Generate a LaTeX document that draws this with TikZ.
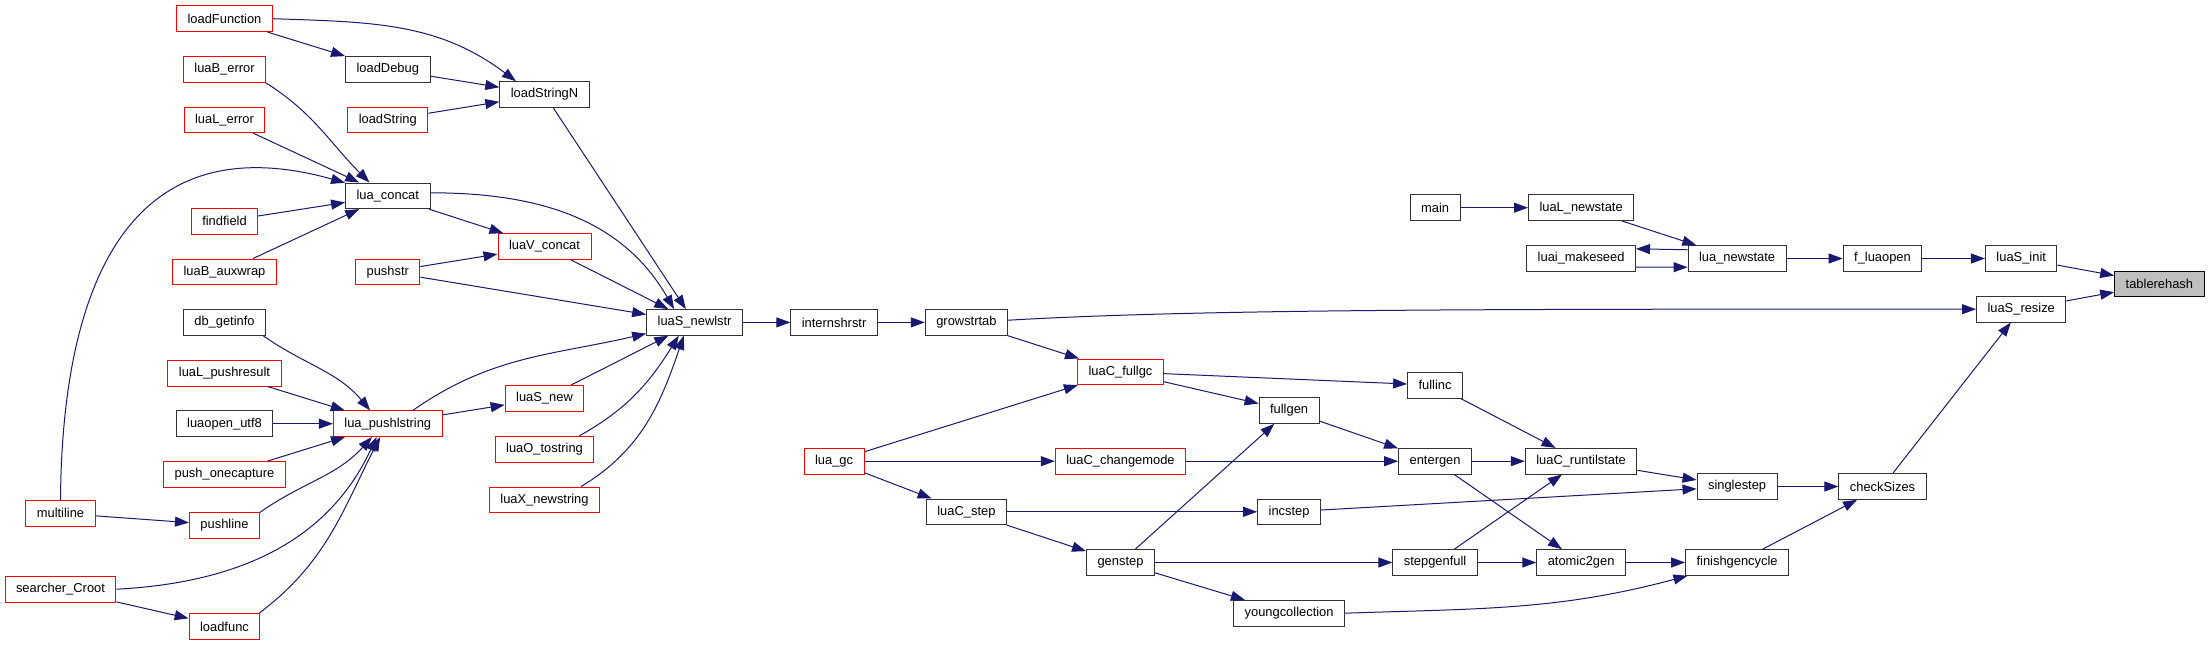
\documentclass[tikz,border=0pt]{standalone}
\usepackage{fontspec}
\setmainfont{Liberation Sans}
\usepackage{xcolor}
\usepackage{tikz}
\usetikzlibrary{
	arrows.meta
}
\definecolor{midnight}{HTML}{191970}

\begin{document}
\begin{tikzpicture}[x=1pt,y=1pt,
		fnbox/.style={draw=black!80, line width=1pt, fill=white, minimum height=25.6pt, inner xsep=11pt, inner ysep=2pt, font=\fontsize{12.9}{14}\selectfont},
		redbox/.style={fnbox, draw=red},
		rootbox/.style={fnbox, draw=black, fill=black!25},
		callarrow/.style={draw=midnight, line width=1pt, -{Triangle[length=14pt,width=10pt]}}]
		\path[use as bounding box, fill=white] (0,0) rectangle (2209,-645);
		% left part
		\node[redbox] (multiline) at (60.5,-513.3) {multiline};
		\node[redbox] (searcherCroot) at (60.5,-589.2) {searcher\_Croot};
		\node[redbox] (loadFunction) at (224.5,-18.7) {loadFunction};
		\node[redbox] (luaBerror) at (224.5,-69.3) {luaB\_error};
		\node[redbox] (luaLerror) at (224.5,-119.8) {luaL\_error};
		\node[redbox] (findfield) at (224.5,-221.2) {findfield};
		\node[redbox] (luaBauxwrap) at (224.5,-271.8) {luaB\_auxwrap};
		\node[fnbox] (dbgetinfo) at (224.5,-322.4) {db\_getinfo};
		\node[redbox] (luaLpushresult) at (224.5,-373.2) {luaL\_pushresult};
		\node[fnbox] (luaopenutf) at (224.5,-423.7) {luaopen\_utf8};
		\node[redbox] (pushonecapture) at (224.5,-474.5) {push\_onecapture};
		\node[redbox] (pushline) at (224.5,-525.2) {pushline};
		\node[redbox] (loadfunc) at (224.5,-626.5) {loadfunc};
		\node[fnbox] (loadDebug) at (387.8,-69.3) {loadDebug};
		\node[redbox] (loadString) at (387.8,-119.8) {loadString};
		\node[fnbox] (luaconcat) at (387.8,-195.8) {lua\_concat};
		\node[redbox] (pushstr) at (387.8,-271.8) {pushstr};
		\node[redbox] (luapushlstring) at (387.8,-423.7) {lua\_pushlstring};
		\node[fnbox] (loadStringN) at (544.5,-94.5) {loadStringN};
		\node[redbox] (luaVconcat) at (544.5,-246.5) {luaV\_concat};
		\node[redbox] (luaSnew) at (544.5,-398.5) {luaS\_new};
		\node[redbox] (luaOtostring) at (544.5,-449.2) {luaO\_tostring};
		\node[redbox] (luaXnewstring) at (544.5,-499.8) {luaX\_newstring};
		\node[fnbox] (luaSnewlstr) at (694.6,-322.4) {luaS\_newlstr};
		\node[fnbox] (internshrstr) at (834.1,-322.4) {internshrstr};
		\node[redbox] (luagc) at (834.1,-461.2) {lua\_gc};
		\node[fnbox] (growstrtab) at (966.4,-322.4) {growstrtab};
		\node[fnbox] (luaCstep) at (966.4,-511.8) {luaC\_step};
		% right part
		\node[redbox] (luaCfullgc) at (1120.5,-371.8) {luaC\_fullgc};
		\node[redbox] (luaCchangemode) at (1120.5,-461.2) {luaC\_changemode};
		\node[fnbox] (genstep) at (1120.5,-562.5) {genstep};
		\node[fnbox] (fullgen) at (1289.1,-410.5) {fullgen};
		\node[fnbox] (incstep) at (1289.1,-511.8) {incstep};
		\node[fnbox] (youngcollection) at (1289.1,-613.2) {youngcollection};
		\node[fnbox] (main) at (1435.1,-207.7) {main};
		\node[fnbox] (fullinc) at (1435.1,-385.2) {fullinc};
		\node[fnbox] (entergen) at (1435.1,-461.2) {entergen};
		\node[fnbox] (stepgenfull) at (1435.1,-562.5) {stepgenfull};
		\node[fnbox] (luaLnewstate) at (1581.1,-207.7) {luaL\_newstate};
		\node[fnbox] (luaimakeseed) at (1581.1,-258.5) {luai\_makeseed};
		\node[fnbox] (luaCruntilstate) at (1581.1,-461.2) {luaC\_runtilstate};
		\node[fnbox] (atomictogen) at (1581.1,-562.5) {atomic2gen};
		\node[fnbox] (luanewstate) at (1737.1,-258.5) {lua\_newstate};
		\node[fnbox] (singlestep) at (1737.1,-486.5) {singlestep};
		\node[fnbox] (finishgencycle) at (1737.1,-562.5) {finishgencycle};
		\node[fnbox] (fluaopen) at (1882.5,-258.5) {f\_luaopen};
		\node[fnbox] (checkSizes) at (1882.5,-486.5) {checkSizes};
		\node[fnbox] (luaSinit) at (2021.2,-258.5) {luaS\_init};
		\node[fnbox] (luaSresize) at (2021.2,-309.2) {luaS\_resize};
		\node[rootbox] (tablerehash) at (2159.4,-283.8) {tablerehash};
		% calls
		\draw[callarrow] (loadFunction) -- (loadDebug);
		\draw[callarrow] (loadFunction.east) to[out=-2,in=143] (loadStringN.155);
		\draw[callarrow] (loadDebug) -- (loadStringN);
		\draw[callarrow] (loadString) -- (loadStringN);
		\draw[callarrow] (loadStringN) -- (luaSnewlstr);
		\draw[callarrow] (luaBerror.-18) to[out=-32,in=135] (luaconcat.144);
		\draw[callarrow] (luaLerror) -- (luaconcat);
		\draw[callarrow] (multiline.north) .. controls (62,-300) and (120,-120) .. (luaconcat.163);
		\draw[callarrow] (findfield) -- (luaconcat);
		\draw[callarrow] (luaBauxwrap) -- (luaconcat);
		\draw[callarrow] (luaconcat) -- (luaVconcat);
		\draw[callarrow] (luaconcat.4) to[out=0,in=120] (luaSnewlstr.147);
		\draw[callarrow] (pushstr) -- (luaVconcat);
		\draw[callarrow] (pushstr) -- (luaSnewlstr);
		\draw[callarrow] (luaVconcat) -- (luaSnewlstr);
		\draw[callarrow] (dbgetinfo.-19) to[out=-35,in=130] (luapushlstring.143);
		\draw[callarrow] (luaLpushresult) -- (luapushlstring);
		\draw[callarrow] (luaopenutf) -- (luapushlstring);
		\draw[callarrow] (pushonecapture) -- (luapushlstring);
		\draw[callarrow] (pushline.20) to[out=35,in=228] (luapushlstring.220);
		\draw[callarrow] (searcherCroot.east) to[out=3,in=245] (luapushlstring.230);
		\draw[callarrow] (loadfunc.21) to[out=37,in=243] (luapushlstring.240);
		\draw[callarrow] (multiline) -- (pushline);
		\draw[callarrow] (searcherCroot) -- (loadfunc);
		\draw[callarrow] (luapushlstring.28) to[out=35,in=193] (luaSnewlstr.193);
		\draw[callarrow] (luapushlstring) -- (luaSnew);
		\draw[callarrow] (luaSnew) -- (luaSnewlstr);
		\draw[callarrow] (luaOtostring.21) to[out=29,in=238] (luaSnewlstr.220);
		\draw[callarrow] (luaXnewstring.20) to[out=31,in=251] (luaSnewlstr.231);
		\draw[callarrow] (luaSnewlstr) -- (internshrstr);
		\draw[callarrow] (internshrstr) -- (growstrtab);
		\draw[callarrow] (growstrtab.3) .. controls (1200,-309) and (1500,-309) .. (luaSresize.west);
		\draw[callarrow] (growstrtab) -- (luaCfullgc);
		\draw[callarrow] (luagc) -- (luaCfullgc);
		\draw[callarrow] (luagc) -- (luaCchangemode);
		\draw[callarrow] (luagc) -- (luaCstep);
		\draw[callarrow] (luaCfullgc) -- (fullinc);
		\draw[callarrow] (luaCfullgc) -- (fullgen);
		\draw[callarrow] (luaCchangemode) -- (entergen);
		\draw[callarrow] (luaCstep) -- (incstep);
		\draw[callarrow] (luaCstep) -- (genstep);
		\draw[callarrow] (genstep) -- (fullgen);
		\draw[callarrow] (genstep) -- (stepgenfull);
		\draw[callarrow] (genstep) -- (youngcollection);
		\draw[callarrow] (fullgen) -- (entergen);
		\draw[callarrow] (fullinc) -- (luaCruntilstate);
		\draw[callarrow] (entergen) -- (luaCruntilstate);
		\draw[callarrow] (entergen) -- (atomictogen);
		\draw[callarrow] (stepgenfull) -- (luaCruntilstate);
		\draw[callarrow] (stepgenfull) -- (atomictogen);
		\draw[callarrow] (incstep) -- (singlestep);
		\draw[callarrow] (youngcollection.east) to[out=2,in=195] (finishgencycle.195);
		\draw[callarrow] (atomictogen) -- (finishgencycle);
		\draw[callarrow] (luaCruntilstate) -- (singlestep);
		\draw[callarrow] (singlestep) -- (checkSizes);
		\draw[callarrow] (finishgencycle) -- (checkSizes);
		\draw[callarrow] (checkSizes) -- (luaSresize);
		\draw[callarrow] (main) -- (luaLnewstate);
		\draw[callarrow] (luaLnewstate) -- (luanewstate);
		\draw[callarrow] (luanewstate.170) -- (luaimakeseed.10);
		\draw[callarrow] (luaimakeseed.-9) -- (luanewstate.190);
		\draw[callarrow] (luanewstate) -- (fluaopen);
		\draw[callarrow] (fluaopen) -- (luaSinit);
		\draw[callarrow] (luaSinit) -- (tablerehash);
		\draw[callarrow] (luaSresize) -- (tablerehash);
	\end{tikzpicture}
\end{document}
